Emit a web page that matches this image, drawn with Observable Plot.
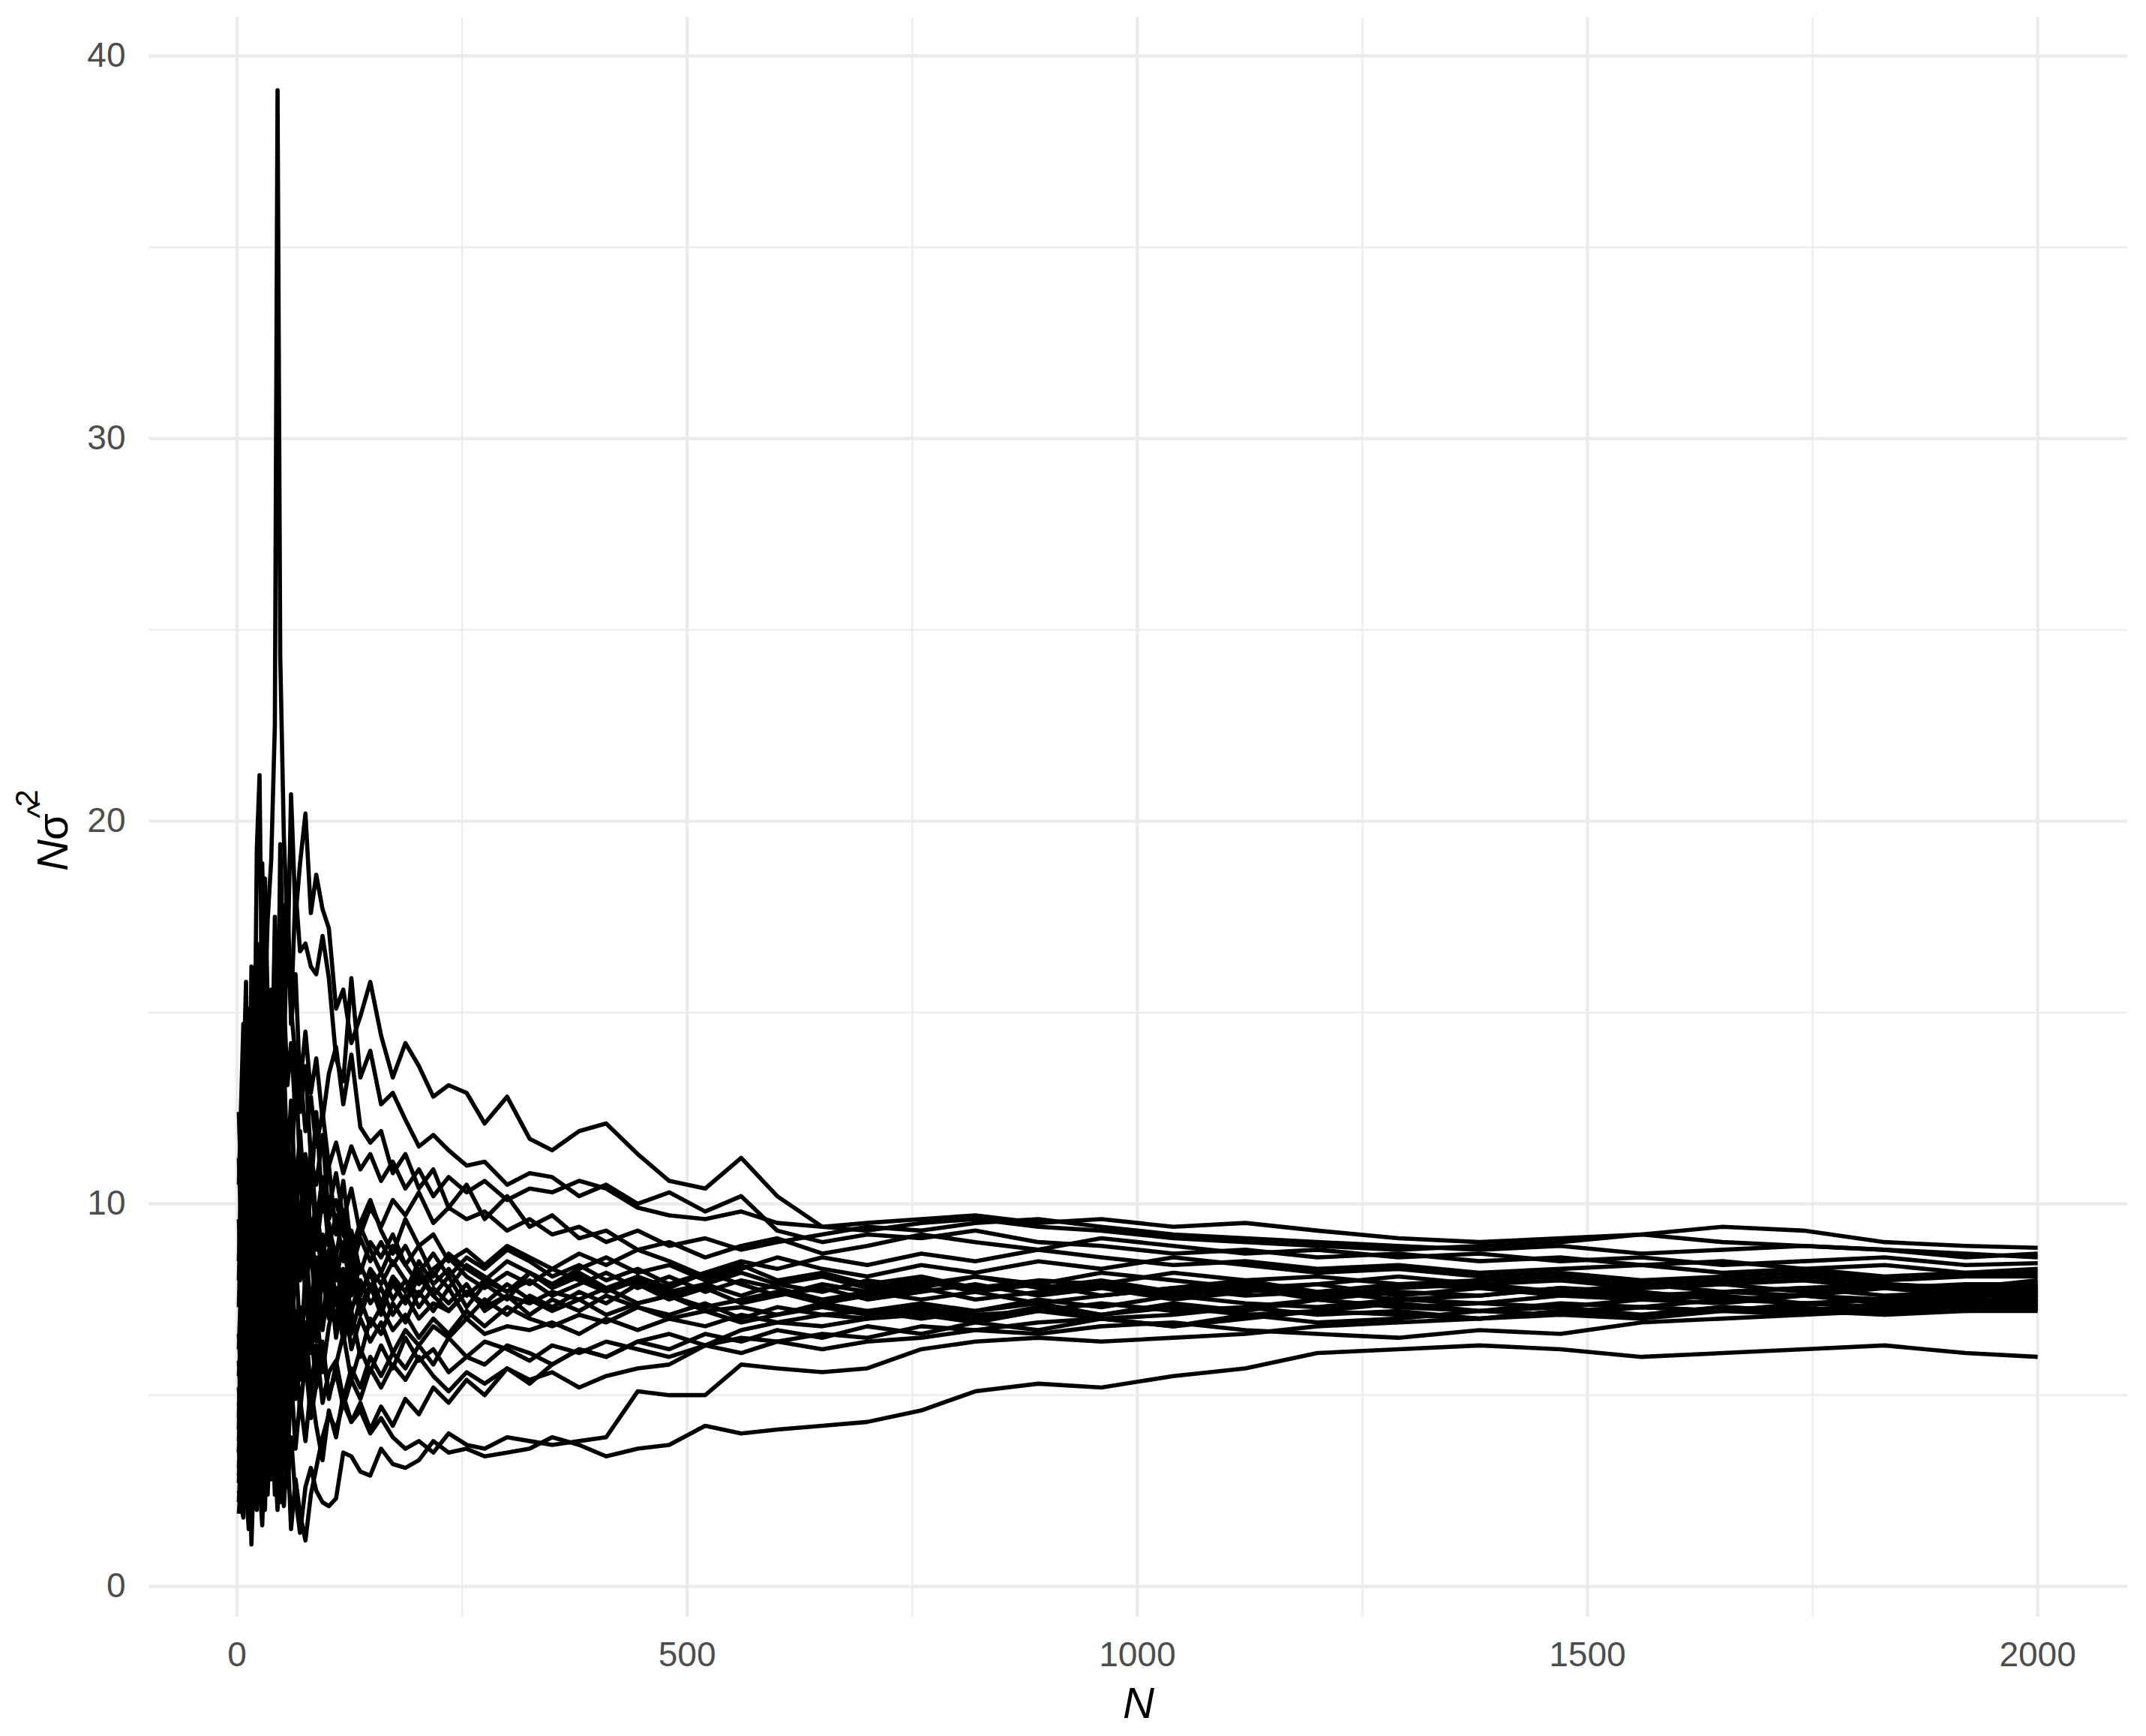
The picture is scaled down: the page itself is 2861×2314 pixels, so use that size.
<!DOCTYPE html>
<html>
<head>
<meta charset="utf-8">
<script src="https://cdn.jsdelivr.net/npm/d3@7"></script>
<script src="https://cdn.jsdelivr.net/npm/@observablehq/plot@0.6"></script>
<style>
  html, body { margin: 0; padding: 0; background: #ffffff; }
  svg { display: block; }
</style>
</head>
<body>
<div id="chart"></div>
<script>
// Sample size N at which each running estimate was read
const Ns = [2,7,10,13,16,19,22,25,28,31,
  34,38,42,45,48,52,56,60,65,70,
  76,82,88,95,102,110,118,127,137,148,
  160,173,187,202,218,235,255,275,300,325,
  350,380,410,445,480,520,560,600,650,700,
  760,820,890,960,1040,1120,1200,1290,1380,1470,
  1560,1650,1740,1830,1920,2000];

// N * sigma-hat^2 for each simulated run
const s01 = [6.2,9.8,12.5,8.1,14.2,11.0,16.8,13.5,18.9,15.2, 17.4,19.0,22.5,39.1,24.3,19.6,17.2,15.1,13.8,12.4, 13.6,11.2,10.5,11.8,9.6,10.1,9.2,8.7,9.4,8.8, 8.2,8.9,8.4,7.9,8.3,8.6,8.1,7.8,8.2,7.9, 8.3,8.0,7.7,8.1,7.8,8.2,7.9,7.6,7.8,7.5, 7.7,7.9,7.6,7.8,7.5,7.7,7.9,7.6,7.8,7.7, 7.5,7.7,7.6,7.4,7.6,7.55];
const s02 = [3.5,7.2,5.1,9.4,7.8,11.6,9.3,12.8,10.9,14.3, 12.1,15.6,13.2,16.9,14.4,17.8,16.1,20.7,17.5,18.9, 20.2,17.6,18.6,17.7,17.2,15.1,15.6,14.2,14.9,15.8, 14.4,13.3,14.2,13.6,12.8,13.1,12.9,12.1,12.8,11.7, 11.4,11.9,12.1,11.3,10.6,10.4,11.2,10.2,9.4,9.5, 9.6,9.7,9.5,9.6,9.4,9.5,9.3,9.1,9.0,9.1, 9.2,9.0,8.9,8.8,8.7,8.6];
const s03 = [4.8,2.9,6.4,4.1,8.7,6.2,10.3,7.5,11.8,9.1, 13.5,10.4,15.2,12.6,16.8,13.9,17.3,15.0,18.2,16.6, 16.8,16.2,16.0,17.0,15.9,13.8,13.2,15.9,13.3,14.0, 12.6,12.9,12.2,11.5,11.8,11.4,11.0,11.1,10.5,10.8, 10.7,10.2,10.5,10.0,10.3,9.8,10.2,9.3,9.0,9.2, 9.1,9.3,9.0,8.9,8.7,8.8,8.6,8.7,8.5,8.6, 8.4,8.5,8.3,8.4,8.2,8.3];
const s04 = [2.7,5.3,3.6,7.2,5.4,9.1,6.8,10.6,8.5,12.2, 10.1,13.4,11.3,14.6,12.5,15.4,13.1,14.2,12.3,13.5, 11.9,12.8,11.5,12.4,11.0,11.6,10.8,11.5,10.9,11.3, 10.6,11.1,10.4,10.9,10.2,10.7,10.3,10.6,10.1,10.4, 10.3,10.6,10.4,9.9,9.7,9.6,9.8,9.5,9.4,9.3, 9.5,9.6,9.4,9.3,9.1,9.0,8.9,8.8,8.9,9.0, 9.2,9.4,9.3,9.0,8.9,8.85];
const s05 = [3.1,5.6,2.4,4.2,1.1,3.3,2.0,4.5,2.8,5.1, 3.4,6.0,4.1,2.9,4.8,3.5,2.6,3.9,2.3,1.4, 2.6,3.1,2.5,2.2,2.1,2.3,3.5,3.4,3.0,2.9, 3.6,3.2,3.1,3.3,3.8,3.5,3.6,3.4,3.5,3.6, 3.9,3.7,3.4,3.6,3.7,4.2,4.0,4.1,4.2,4.3, 4.6,5.1,5.3,5.2,5.5,5.7,6.1,6.2,6.3,6.2, 6.0,6.1,6.2,6.3,6.1,6.0];
const s06 = [2.2,4.9,7.1,3.8,6.3,2.7,5.5,3.2,6.9,4.4, 3.0,5.2,2.4,4.6,3.3,2.1,3.7,1.5,2.8,1.9, 1.2,2.4,3.1,3.9,4.5,4.1,4.8,4.3,4.6,4.0, 4.4,3.9,3.6,3.8,3.5,4.0,3.7,3.6,3.9,3.8, 3.7,3.8,3.9,5.1,5.0,5.0,5.8,5.7,5.6,5.7, 6.2,6.4,6.5,6.4,6.5,6.6,6.8,6.9,7.0,7.1, 7.0,7.2,7.3,7.1,7.2,7.2];
const s07 = [5.2,2.6,4.3,6.8,3.9,7.5,5.0,8.2,6.1,4.7, 7.6,5.3,8.9,6.4,4.9,7.3,5.8,8.4,6.6,5.4, 6.9,5.1,6.3,4.8,5.6,5.9,4.9,5.7,5.2,6.0, 5.5,6.1,5.7,6.3,5.8,6.5,6.0,6.4,6.2,5.9, 6.3,6.1,6.4,6.2,6.0,6.3,6.5,6.4,6.2,6.4, 6.5,6.7,6.6,6.8,6.9,6.7,6.6,6.5,6.7,6.6, 6.9,7.0,7.1,7.2,7.3,7.25];
const s08 = [8.5,13.1,15.8,10.2,16.2,12.4,19.3,21.2,14.6,17.1, 12.3,14.8,10.9,13.3,9.7,11.9,8.8,10.6,9.3,11.2, 10.0,11.4,9.5,10.7,9.9,10.8,9.6,10.4,9.2,9.9, 9.4,10.1,9.7,10.3,9.5,9.9,9.6,9.8,9.3,9.6, 9.2,9.4,9.0,9.3,8.9,9.1,8.8,9.0,9.2,9.4, 9.3,9.5,9.6,9.4,9.2,9.1,9.0,8.9,8.8,8.9, 8.7,8.8,8.9,8.8,8.6,8.7];
const s09 = [11.2,7.4,14.1,9.6,12.8,15.6,11.3,13.9,10.5,16.4, 14.0,11.7,17.5,13.2,19.4,15.8,18.3,14.7,16.0,13.1, 14.5,12.9,13.8,12.2,13.4,14.1,12.6,13.9,12.0,11.6, 11.9,10.8,11.3,10.4,10.9,9.9,10.5,9.6,10.2,9.4, 9.7,9.1,9.3,8.8,9.0,8.6,8.9,9.1,8.7,8.9, 9.2,9.0,8.8,9.1,8.9,8.7,8.8,8.6,8.7,8.5, 8.6,8.4,8.5,8.6,8.4,8.45];
const s10 = [4.1,8.8,6.0,11.4,8.3,5.9,9.7,7.2,12.5,9.8, 7.4,10.6,8.1,12.9,9.5,11.8,8.7,10.3,13.6,10.9, 9.1,11.5,8.8,10.2,9.4,8.6,9.8,8.3,9.1,8.5, 9.0,8.4,8.9,8.2,8.7,8.1,8.6,8.3,8.8,8.5, 8.1,8.4,8.0,8.3,7.9,8.2,8.5,8.3,8.6,8.4, 8.7,8.5,8.8,8.6,8.4,8.5,8.3,8.4,8.2,8.3, 8.4,8.2,8.3,8.1,8.2,8.2];
const s11 = [2.5,1.8,4.0,2.9,5.6,3.5,2.2,4.8,3.0,6.1, 4.3,7.2,5.0,3.6,6.4,4.7,8.0,5.9,7.1,5.5, 8.3,6.6,7.4,9.2,7.8,8.6,7.1,8.9,7.6,8.2, 7.4,8.1,7.7,8.5,7.9,8.3,7.6,8.0,7.7,8.2, 7.9,8.3,8.6,8.2,8.4,8.0,8.3,8.6,8.3,8.1, 8.4,8.2,8.5,8.3,8.6,8.4,8.2,8.3,8.1,8.2, 8.0,8.1,8.2,8.0,8.1,8.1];
const s12 = [9.6,5.8,12.1,8.3,6.2,10.4,7.7,5.4,9.1,6.8, 10.7,8.0,6.5,9.4,11.8,8.6,10.2,7.5,9.7,11.1, 8.9,10.3,12.4,9.8,11.0,9.2,10.6,8.8,9.5,10.1, 9.3,8.7,9.6,8.9,9.2,8.5,8.8,8.4,8.9,8.6, 8.3,8.7,8.4,8.8,8.5,8.1,8.4,8.0,8.2,7.9, 8.1,7.8,8.0,7.9,8.2,8.0,8.1,7.9,8.0,8.1, 7.9,8.0,8.1,7.9,7.8,8.0];
const s13 = [1.9,3.7,2.6,1.5,3.2,2.1,4.4,2.7,1.6,3.8, 2.4,4.9,3.3,2.0,3.6,5.2,4.0,6.3,4.9,7.0, 5.8,7.5,6.4,8.2,7.0,7.8,6.7,8.4,7.3,7.9, 7.1,8.0,7.4,8.3,7.6,8.1,7.3,7.9,7.5,8.2, 7.8,8.1,7.7,8.0,7.6,7.9,8.2,7.9,7.7,8.0, 7.8,8.1,7.9,8.2,8.0,7.8,7.9,8.1,7.9,8.0, 7.8,7.9,8.0,7.8,7.9,7.9];
const s14 = [7.3,11.9,9.0,15.1,11.6,8.2,13.7,16.4,12.0,18.5, 15.3,12.6,16.9,14.0,11.5,13.8,10.9,12.7,10.2,11.9, 9.8,11.0,9.3,10.5,8.9,9.7,8.5,9.3,8.2,9.0, 8.6,9.2,8.4,8.9,8.1,8.7,8.3,8.0,8.5,8.2, 7.9,8.2,7.8,8.1,7.7,7.9,7.6,7.9,8.1,7.8, 8.0,7.7,7.9,7.6,7.8,8.0,7.7,7.9,7.8,7.6, 7.8,7.9,7.7,7.9,7.8,7.85];
const s15 = [5.9,3.4,7.6,4.9,9.2,6.5,3.9,8.1,5.3,7.0, 9.0,6.2,4.5,7.7,5.6,8.9,6.8,4.6,7.2,5.8, 7.9,6.1,7.3,5.6,6.8,7.6,6.4,7.2,6.0,7.0, 6.6,7.4,6.9,7.7,7.2,7.8,7.0,7.5,7.1,7.6, 7.3,7.7,7.4,7.9,7.5,7.8,7.4,7.6,7.9,7.7, 7.9,8.1,7.8,8.0,7.7,7.9,7.6,7.8,7.9,7.7, 7.9,7.7,7.8,7.9,7.7,7.8];
const s16 = [10.5,14.7,8.9,12.3,7.1,10.8,13.6,9.4,11.7,8.0, 11.4,9.1,12.8,10.0,7.9,10.5,8.3,11.2,8.8,10.0, 8.4,9.6,7.8,8.9,7.4,8.6,7.9,8.8,7.6,8.3, 7.9,8.5,8.0,7.6,8.2,7.8,8.4,8.1,7.7,8.0, 7.6,7.9,8.2,7.8,8.1,7.7,8.0,7.8,7.5,7.7, 7.5,7.7,7.4,7.6,7.8,7.6,7.7,7.5,7.6,7.8, 7.6,7.7,7.8,7.6,7.7,7.75];
const s17 = [3.8,6.7,4.9,8.5,6.0,9.9,7.3,5.2,8.6,10.9, 8.2,11.5,9.0,7.1,10.3,8.4,12.0,9.3,11.0,8.7, 10.2,8.5,9.6,7.9,8.8,7.5,8.3,7.2,8.0,7.4, 7.8,7.1,7.6,7.0,7.4,7.2,7.7,7.3,7.6,7.4, 7.7,7.5,7.8,7.4,7.6,7.3,7.5,7.7,7.4,7.6, 7.8,7.5,7.7,7.9,7.6,7.8,7.5,7.7,7.6,7.8, 7.7,7.5,7.6,7.8,7.6,7.7];
const s18 = [6.6,4.0,8.3,5.5,3.7,6.9,4.6,7.8,5.1,3.5, 6.2,4.4,7.1,5.0,8.2,5.9,4.2,6.6,5.0,7.3, 5.5,6.8,5.2,6.3,4.9,5.8,6.6,5.4,6.2,5.6, 6.3,5.7,6.5,5.9,6.2,5.6,6.0,5.8,6.3,6.1, 5.8,6.2,6.0,6.4,6.6,6.3,6.7,6.9,7.1,7.0, 7.2,7.0,7.3,7.1,7.4,7.2,7.5,7.3,7.4,7.6, 7.5,7.6,7.4,7.5,7.7,7.65];
const s19 = [12.4,8.6,5.7,10.1,13.5,9.3,6.4,11.0,8.0,12.6, 9.8,7.3,10.6,8.5,6.9,9.4,7.6,10.8,8.2,9.6, 7.7,8.9,7.0,8.3,7.3,8.7,7.5,8.1,7.1,7.8, 7.3,7.9,7.4,8.1,7.6,7.2,7.7,7.4,7.9,7.5, 7.2,7.5,7.1,7.4,7.6,7.2,7.3,7.1,7.4,7.2, 7.4,7.2,7.5,7.3,7.6,7.4,7.3,7.5,7.4,7.3, 7.5,7.4,7.6,7.5,7.4,7.6];
const s20 = [4.4,9.3,6.2,3.0,7.9,5.0,10.5,6.8,4.1,8.4, 5.7,9.9,7.0,12.2,8.6,6.1,9.3,7.1,10.4,8.0, 9.0,7.2,8.6,6.7,7.9,6.9,8.2,6.6,7.5,6.8, 7.3,6.7,7.1,6.5,7.0,6.6,7.2,6.8,7.3,7.0, 6.8,7.1,6.9,7.3,7.0,7.2,6.9,7.1,7.3,7.1, 7.3,7.1,7.2,7.4,7.2,7.3,7.5,7.3,7.2,7.4, 7.3,7.5,7.4,7.3,7.4,7.5];
const s21 = [2.9,5.0,3.3,6.6,4.2,2.4,5.8,3.6,7.0,4.5, 6.9,3.9,5.6,8.6,6.0,4.3,6.8,4.9,6.2,4.6, 5.9,4.4,5.3,6.4,5.0,5.6,4.7,5.4,4.9,5.7, 5.2,5.8,5.4,6.0,5.5,5.1,5.6,5.3,5.7,5.4, 5.6,5.2,5.5,5.7,5.8,6.3,6.1,6.4,6.6,6.5, 6.8,6.7,6.9,7.0,6.8,7.0,7.2,7.1,7.0,7.2, 7.3,7.2,7.4,7.3,7.5,7.45];
const s22 = [8.0,12.2,9.5,6.4,11.1,14.3,10.2,7.9,12.9,10.3, 13.1,10.9,8.6,11.4,9.2,12.4,10.0,8.1,10.6,9.4, 11.3,9.1,10.0,8.6,9.5,8.0,9.0,7.6,8.4,7.8, 8.2,7.5,8.0,7.3,7.8,7.4,7.9,7.2,7.6,7.1, 7.5,7.2,7.6,7.3,7.1,7.4,7.0,7.3,7.1,7.2, 7.0,7.2,7.4,7.1,7.3,7.1,7.2,7.4,7.2,7.3, 7.1,7.3,7.2,7.4,7.3,7.4];
const s23 = [5.5,7.9,4.6,9.8,7.0,12.0,8.4,6.1,10.4,7.6, 5.3,8.3,6.5,9.6,7.2,10.1,7.8,6.0,8.8,6.5, 7.6,6.3,8.0,6.9,8.4,6.5,7.7,6.2,7.0,6.4, 6.9,6.1,6.7,6.3,6.8,6.5,7.0,6.6,6.8,6.7, 6.9,6.6,7.0,6.7,7.0,6.8,7.1,6.9,6.8,7.0, 7.1,6.9,7.2,7.0,7.1,7.3,7.1,7.2,7.0,7.2, 7.1,7.3,7.2,7.1,7.3,7.35];
const s24 = [3.6,2.3,5.1,3.0,1.7,4.3,2.5,5.7,3.4,2.0, 4.7,2.8,5.9,3.7,2.2,4.4,3.1,5.5,3.6,4.9, 3.8,5.2,4.2,3.3,4.6,3.9,5.0,4.3,4.8,4.1, 4.7,4.2,4.9,4.5,5.2,4.8,5.4,5.0,5.7,5.3, 5.8,6.2,6.0,6.4,6.2,6.6,6.4,6.7,6.5,6.8, 6.6,6.9,6.7,7.0,6.8,7.1,6.9,7.0,7.2,7.1, 7.3,7.2,7.1,7.3,7.2,7.3];

const runs = [s01,s02,s03,s04,s05,s06,s07,s08,s09,s10,s11,s12,s13,s14,s15,s16,s17,s18,s19,s20,s21,s22,s23,s24];

// Axis ticks
const xTicks = [0, 500, 1000, 1500, 2000];
const xMinor = [250, 750, 1250, 1750];
const yTicks = [0, 10, 20, 30, 40];
const yMinor = [5, 15, 25, 35];

const rows = runs.flatMap((s, i) => s.map((v, j) => ({N: Ns[j], v, run: i})));
const xe = d3.extent(Ns);
const ye = d3.extent(rows, d => d.v);
const xp = (xe[1] - xe[0]) * 0.05;
const yp = (ye[1] - ye[0]) * 0.05;

const FONT = "'Liberation Sans', Arial, Helvetica, sans-serif";
const grid = "#EBEBEB";
const plain = d => String(d);

const chart = Plot.plot({
  width: 2861,
  height: 2314,
  marginLeft: 198,
  marginRight: 25,
  marginTop: 23,
  marginBottom: 159,
  style: {background: "#ffffff", fontFamily: FONT, fontSize: "46px", color: "#4D4D4D"},
  x: {domain: [xe[0] - xp, xe[1] + xp]},
  y: {domain: [ye[0] - yp, ye[1] + yp]},
  marks: [
    Plot.ruleX(xMinor, {stroke: grid, strokeWidth: 2.2}),
    Plot.ruleY(yMinor, {stroke: grid, strokeWidth: 2.2}),
    Plot.ruleX(xTicks, {stroke: grid, strokeWidth: 4.3}),
    Plot.ruleY(yTicks, {stroke: grid, strokeWidth: 4.3}),
    Plot.axisX({ticks: xTicks, tickFormat: plain, tickSize: 0, tickPadding: 33, label: null, fontSize: 46, fill: "#4D4D4D", fontFamily: FONT}),
    Plot.axisY({ticks: yTicks, tickFormat: plain, tickSize: 0, tickPadding: 31, label: null, fontSize: 46, fill: "#4D4D4D", fontFamily: FONT}),
    Plot.line(rows, {x: "N", y: "v", z: "run", stroke: "#000000", strokeWidth: 5.6, strokeLinejoin: "round", strokeLinecap: "butt"})
  ]
});

document.getElementById("chart").appendChild(chart);

// Axis titles
const svg = d3.select(chart);
svg.append("text")
  .attr("x", 1518).attr("y", 2290)
  .attr("text-anchor", "middle")
  .attr("font-family", FONT).attr("font-size", 58)
  .attr("font-style", "italic").attr("fill", "#000000")
  .text("N");

const yt = svg.append("g")
  .attr("transform", "translate(90,1089) rotate(-90)")
  .attr("font-family", FONT).attr("fill", "#000000");
yt.append("text").attr("x", -51).attr("y", 0).attr("font-size", 58)
  .attr("font-style", "italic").text("N");
yt.append("text").attr("x", -13).attr("y", 0).attr("font-size", 58).text("σ");
yt.append("text").attr("x", 9).attr("y", -22).attr("text-anchor", "middle")
  .attr("font-size", 46).text("^");
yt.append("text").attr("x", 25).attr("y", -40).attr("font-size", 42).text("2");
</script>
</body>
</html>
